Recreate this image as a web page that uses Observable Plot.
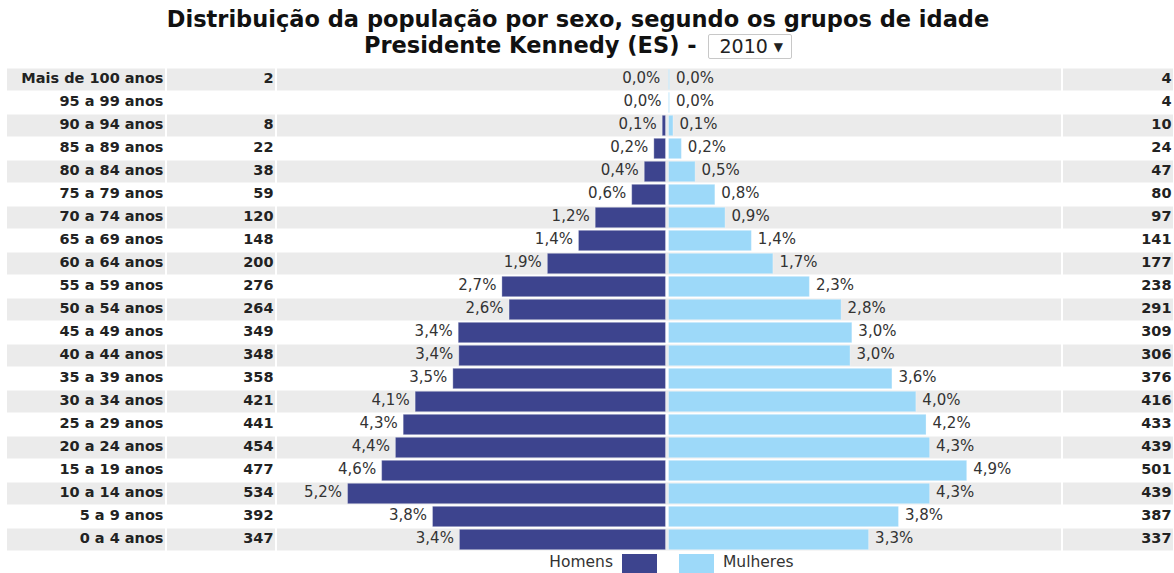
<!DOCTYPE html>
<html>
<head>
<meta charset="utf-8">
<script src="https://cdn.jsdelivr.net/npm/d3@7"></script>
<script src="https://cdn.jsdelivr.net/npm/@observablehq/plot@0.6"></script>
<style>
  html, body { margin: 0; padding: 0; background: #fff; }
  body { width: 1174px; height: 573px; overflow: hidden; font-family: "DejaVu Sans", sans-serif; }
  #title { height: 62px; overflow: hidden; box-sizing: border-box; text-align: center; font-weight: bold; color: #111; font-size: 22.5px; padding-right: 18px; }
  #title .l1 { line-height: 26px; padding-top: 6px; }
  #title .l2 { line-height: 26px; margin-top: 0px; }
  #title .sel { display: inline-block; font-weight: normal; font-size: 19px; line-height: 22px; border: 1px solid #c8c8c8; border-radius: 2px; padding: 0 8px 0 10px; margin-left: 4px; vertical-align: middle; color: #222; }
  #title .sel small { font-size: 12px; margin-left: 6px; vertical-align: 2px; }
  #chart svg { display: block; }
  #legend { position: relative; height: 20px; font-size: 15.5px; color: #333; }
  #legend .sw { position: absolute; top: 1px; width: 35px; height: 22px; }
  #legend .tx { position: absolute; top: 0px; line-height: 18px; }
</style>
</head>
<body>
<div id="title">
  <div class="l1">Distribuição da população por sexo, segundo os grupos de idade</div>
  <div class="l2">Presidente Kennedy (ES) - <span class="sel">2010<small>▼</small></span></div>
</div>
<div id="chart"></div>
<div id="legend">
  <span class="tx" style="right:561px">Homens</span>
  <span class="sw" style="left:622px;background:#3d448e"></span>
  <span class="sw" style="left:679px;background:#9dd9f9"></span>
  <span class="tx" style="left:723px">Mulheres</span>
</div>
<script>
// Age groups (top to bottom)
const ages = [
  "Mais de 100 anos", "95 a 99 anos", "90 a 94 anos", "85 a 89 anos", "80 a 84 anos",
  "75 a 79 anos", "70 a 74 anos", "65 a 69 anos", "60 a 64 anos", "55 a 59 anos",
  "50 a 54 anos", "45 a 49 anos", "40 a 44 anos", "35 a 39 anos", "30 a 34 anos",
  "25 a 29 anos", "20 a 24 anos", "15 a 19 anos", "10 a 14 anos", "5 a 9 anos", "0 a 4 anos"
];
// Population counts
const homens = [2, 0, 8, 22, 38, 59, 120, 148, 200, 276, 264, 349, 348, 358, 421, 441, 454, 477, 534, 392, 347];
const mulheres = [4, 4, 10, 24, 47, 80, 97, 141, 177, 238, 291, 309, 306, 376, 416, 433, 439, 501, 439, 387, 337];

const COR_H = "#3d448e";
const COR_M = "#9dd9f9";
const W = 1174;
const CENTER = 667;      // pixel of the zero line
const PX_PER_PCT = 61.7; // pixels per percentage point

const total = d3.sum(homens) + d3.sum(mulheres);
const rows = ages.map((age, i) => ({
  age, i,
  h: homens[i], m: mulheres[i],
  ph: homens[i] / total * 100,
  pm: mulheres[i] / total * 100
}));
const fmt = v => v.toFixed(1).replace(".", ",") + "%";
const grey = rows.filter(d => d.i % 2 === 0);
const txt = { fontFamily: "DejaVu Sans", dy: -2 };

const chart = Plot.plot({
  width: W,
  height: 491,
  marginTop: 3, marginBottom: 0, marginLeft: 0, marginRight: 0,
  style: { fontFamily: "DejaVu Sans", background: "#fff" },
  x: { domain: [-CENTER / PX_PER_PCT, (W - CENTER) / PX_PER_PCT], axis: null },
  y: { domain: ages, axis: null, padding: 0 },
  marks: [
    // alternating row shading, split into the four table columns
    Plot.cell(grey, { y: "age", fill: "#ebebeb", insetLeft: 7, insetRight: W - 165, insetTop: 0.5, insetBottom: 0.5 }),
    Plot.cell(grey, { y: "age", fill: "#ebebeb", insetLeft: 167, insetRight: W - 275, insetTop: 0.5, insetBottom: 0.5 }),
    Plot.cell(grey, { y: "age", fill: "#ebebeb", insetLeft: 277, insetRight: W - 1061, insetTop: 0.5, insetBottom: 0.5 }),
    Plot.cell(grey, { y: "age", fill: "#ebebeb", insetLeft: 1063, insetRight: 1, insetTop: 0.5, insetBottom: 0.5 }),
    // bars
    Plot.barX(rows.filter(d => d.h > 0), {
      y: "age", x1: d => -d.ph, x2: 0, fill: COR_H,
      stroke: "#ffffff", strokeOpacity: 0.3, strokeWidth: 1,
      insetRight: 1.5, insetTop: 1.3, insetBottom: 1.3
    }),
    Plot.barX(rows.filter(d => d.m > 0), {
      y: "age", x1: 0, x2: d => d.pm, fill: COR_M,
      stroke: "#ffffff", strokeOpacity: 0.3, strokeWidth: 1,
      insetLeft: 1.5, insetTop: 1.3, insetBottom: 1.3
    }),
    // percentage labels
    Plot.text(rows, { ...txt, y: "age", x: d => -d.ph, text: d => fmt(d.ph), textAnchor: "end", dx: -6, fontSize: 15, fill: "#333" }),
    Plot.text(rows, { ...txt, y: "age", x: d => d.pm, text: d => fmt(d.pm), textAnchor: "start", dx: 6, fontSize: 15, fill: "#333" }),
    // age labels
    Plot.text(rows, { ...txt, y: "age", frameAnchor: "left", text: "age", textAnchor: "end", dx: 163, fontSize: 14.5, fontWeight: "bold", fill: "#222" }),
    // counts
    Plot.text(rows, { ...txt, y: "age", frameAnchor: "left", text: d => d.h > 0 ? String(d.h) : "", textAnchor: "end", dx: 273, fontSize: 14.5, fontWeight: "bold", fill: "#222" }),
    Plot.text(rows, { ...txt, y: "age", frameAnchor: "right", text: d => String(d.m), textAnchor: "end", dx: -3, fontSize: 14.5, fontWeight: "bold", fill: "#222" })
  ]
});
document.getElementById("chart").appendChild(chart);
</script>
</body>
</html>
